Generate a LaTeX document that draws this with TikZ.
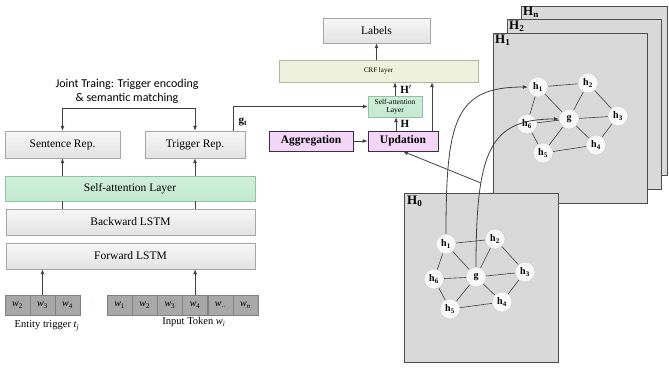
\documentclass[tikz,border=0pt]{standalone}
\usepackage{fontspec}
\setmainfont{Liberation Serif}
\newfontfamily\jointfont{Carlito}
\usetikzlibrary{arrows.meta}

\definecolor{boxline}{HTML}{A6A6A6}
\definecolor{greenfill}{HTML}{C4EAD0}
\definecolor{greenline}{HTML}{8DC5A0}
\definecolor{crffill}{HTML}{EEF1DD}
\definecolor{crfline}{HTML}{B3B79E}
\definecolor{lilac}{HTML}{F3D6F7}
\definecolor{lilacline}{HTML}{3B2A4A}
\definecolor{plane}{HTML}{D9D9D9}
\definecolor{planeline}{HTML}{4D4D4D}
\definecolor{tokfill}{HTML}{A8A8A8}
\definecolor{tokline}{HTML}{7F7F7F}
\definecolor{arrowgray}{HTML}{404040}

\begin{document}
\begin{tikzpicture}[x=1pt, y=-1pt,
		layerbox/.style={draw=boxline, top color=white!97!black, bottom color=white!89!black, inner sep=0pt, font=\fontsize{11.5}{13}\selectfont},
		greenbox/.style={draw=greenline, top color=greenfill!80, bottom color=greenfill, inner sep=0pt},
		opbox/.style={draw=lilacline, fill=lilac, line width=0.8pt, minimum height=20pt, inner sep=0pt, font=\fontsize{11.5}{13}\selectfont\bfseries},
		tok/.style={draw=tokline, fill=tokfill, minimum width=25pt, minimum height=20pt, inner sep=0pt, font=\fontsize{10}{12}\selectfont},
		gnode/.style={circle, draw=gray!40, shading=radial, inner color=white, outer color=gray!8, minimum size=20pt, inner sep=0pt, font=\fontsize{10}{12}\selectfont\bfseries},
		planebox/.style={draw=planeline, fill=plane, line width=0.8pt},
		arr/.style={draw=arrowgray, line width=0.8pt, -{Latex[length=5pt,width=4pt]}},
		edge/.style={draw=arrowgray, line width=0.6pt}]
		\useasboundingbox (0,0) rectangle (669,367);

		% left encoder
		\node[layerbox, minimum width=115pt, minimum height=27pt] (sent) at (62.5,144.5) {Sentence Rep.};
		\node[layerbox, minimum width=100pt, minimum height=27pt] (trig) at (195,144.5) {Trigger Rep.};
		\node[greenbox, minimum width=250pt, minimum height=25pt, font=\fontsize{11.5}{13}\selectfont] (sa) at (130,188.5) {Self-attention Layer};
		\node[layerbox, minimum width=249pt, minimum height=26pt] (bwd) at (130.5,222) {Backward LSTM};
		\node[layerbox, minimum width=249pt, minimum height=26pt] (fwd) at (130.5,256) {Forward LSTM};

		\node[tok] (tl1) at (17.5,305) {\textit{w}\textsubscript{2}};
		\node[tok] (tl2) at (42.5,305) {\textit{w}\textsubscript{3}};
		\node[tok] (tl3) at (67.5,305) {\textit{w}\textsubscript{4}};
		\node[text=gray!60, font=\tiny] (gap) at (92,305) {,};
		\node[tok] (tr1) at (119.6,305) {\textit{w}\textsubscript{1}};
		\node[tok] (tr2) at (144.8,305) {\textit{w}\textsubscript{2}};
		\node[tok] (tr3) at (169.9,305) {\textit{w}\textsubscript{3}};
		\node[tok] (tr4) at (195.1,305) {\textit{w}\textsubscript{4}};
		\node[tok] (tr5) at (220.3,305) {\textit{w}\textsubscript{..}};
		\node[tok] (tr6) at (245.4,305) {\textit{w}\textsubscript{\textit{n}}};
		\node[font=\fontsize{10.5}{12}\selectfont] (ent) at (47,326) {Entity trigger \textit{t}\textsubscript{\textit{j}}};
		\node[font=\fontsize{10.5}{12}\selectfont] (inp) at (194,322) {Input Token \textit{w}\textsubscript{\textit{i}}};

		\node[font=\jointfont\fontsize{12}{14}\selectfont, align=center] (joint) at (127,91) {Joint Traing: Trigger encoding\\\& semantic matching};
		\coordinate (jt) at (127,108);
		\draw[arr] (jt) -| (sent.north);
		\draw[arr] (jt) -| (trig.north);

		\draw[arr] (tl2.north) -- (tl2.north |- fwd.south);
		\draw[arr] (tr4.north) -- (tr4.north |- fwd.south);
		\draw[edge, line width=0.8pt] (bwd.north -| sent.south) -- (sa.south -| sent.south);
		\draw[edge, line width=0.8pt] (bwd.north -| trig.south) -- (sa.south -| trig.south);
		\draw[arr] (sa.north -| sent.south) -- (sent.south);
		\draw[arr] (sa.north -| trig.south) -- (trig.south);

		% decoder
		\node[layerbox, minimum width=107pt, minimum height=25pt] (labels) at (376.5,30.5) {Labels};
		\node[draw=crfline, fill=crffill, minimum width=199pt, minimum height=22pt, inner sep=0pt, font=\fontsize{7}{8}\selectfont] (crf) at (378.5,71) {CRF layer};
		\node[greenbox, minimum width=54pt, minimum height=21pt, align=center, font=\fontsize{7.5}{8.5}\selectfont] (sa2) at (395,106.5) {Self-attention\\Layer};
		\node[opbox, minimum width=84pt] (agg) at (311,141) {Aggregation};
		\node[opbox, minimum width=70pt] (upd) at (403,141) {Updation};

		\draw[arr] (crf.north -| labels.south) -- (labels.south);
		\draw[arr] (sa2.north) -- (sa2.north |- crf.south);
		\draw[arr] ([xshift=-7pt]upd.north) -- ([xshift=-7pt]upd.north |- sa2.south);
		\draw[arr] ([xshift=29pt]upd.north) -- ([xshift=29pt]upd.north |- crf.south);
		\draw[arr] (agg.east) -- (upd.west);
		\draw[arr] ([xshift=38pt]trig.north) |- (sa2.west);
		\node[font=\fontsize{11}{12}\selectfont\bfseries] (hp) at (406,89) {H$^\prime$};
		\node[font=\fontsize{11}{12}\selectfont\bfseries] (hh) at (405,124) {H};
		\node[font=\fontsize{11}{12}\selectfont\bfseries] (gt) at (243,122) {g\textsubscript{t}};

		% graph layers
		\draw[planebox] (521,6) rectangle (667,175);
		\draw[planebox] (507,19) rectangle (661,189);
		\draw[planebox] (493,33) rectangle (647,203);
		\node[anchor=north west, inner sep=1pt, font=\fontsize{13}{14}\selectfont\bfseries] (Hn) at (522,6) {H\textsubscript{n}};
		\node[anchor=north west, inner sep=1pt, font=\fontsize{13}{14}\selectfont\bfseries] (H2) at (508,20) {H\textsubscript{2}};
		\node[anchor=north west, inner sep=1pt, font=\fontsize{13}{14}\selectfont\bfseries] (H1) at (494,34) {H\textsubscript{1}};

		\node[gnode] (b1) at (538,87) {h\textsubscript{1}};
		\node[gnode] (b2) at (588,83) {h\textsubscript{2}};
		\node[gnode] (b3) at (618,116) {h\textsubscript{3}};
		\node[gnode] (b4) at (596,145) {h\textsubscript{4}};
		\node[gnode] (b5) at (543,153) {h\textsubscript{5}};
		\node[gnode] (b6) at (527,124) {h\textsubscript{6}};
		\node[gnode] (b0) at (569,119) {g};
		\draw[edge] (b1) -- (b2) -- (b3) -- (b4) -- (b5) -- (b6) -- (b1);
		\draw[edge] (b0) -- (b1);
		\draw[edge] (b0) -- (b2);
		\draw[edge] (b0) -- (b3);
		\draw[edge] (b0) -- (b4);
		\draw[edge] (b0) -- (b5);
		\draw[edge] (b0) -- (b6);

		\draw[planebox] (404,193) rectangle (558,362);
		\node[anchor=north west, inner sep=1pt, font=\fontsize{13}{14}\selectfont\bfseries] (H0) at (406,195) {H\textsubscript{0}};

		\node[gnode] (a1) at (446,244) {h\textsubscript{1}};
		\node[gnode] (a2) at (495,239) {h\textsubscript{2}};
		\node[gnode] (a3) at (525,272) {h\textsubscript{3}};
		\node[gnode] (a4) at (502,302) {h\textsubscript{4}};
		\node[gnode] (a5) at (450,309) {h\textsubscript{5}};
		\node[gnode] (a6) at (434,279) {h\textsubscript{6}};
		\node[gnode] (a0) at (476,277) {g};
		\draw[edge] (a1) -- (a2) -- (a3) -- (a4) -- (a5) -- (a6) -- (a1);
		\draw[edge] (a0) -- (a1);
		\draw[edge] (a0) -- (a2);
		\draw[edge] (a0) -- (a3);
		\draw[edge] (a0) -- (a4);
		\draw[edge] (a0) -- (a5);
		\draw[edge] (a0) -- (a6);

		% propagation
		\draw[arr] (a1.north) .. controls (446,120) and (455,87) .. (b1.west);
		\draw[arr] (a0.north) .. controls (476,150) and (490,119) .. (b0.west);
		\coordinate (jn) at (481,183);
		\draw[arr] (jn) -- (upd.south);

	\end{tikzpicture}
\end{document}
